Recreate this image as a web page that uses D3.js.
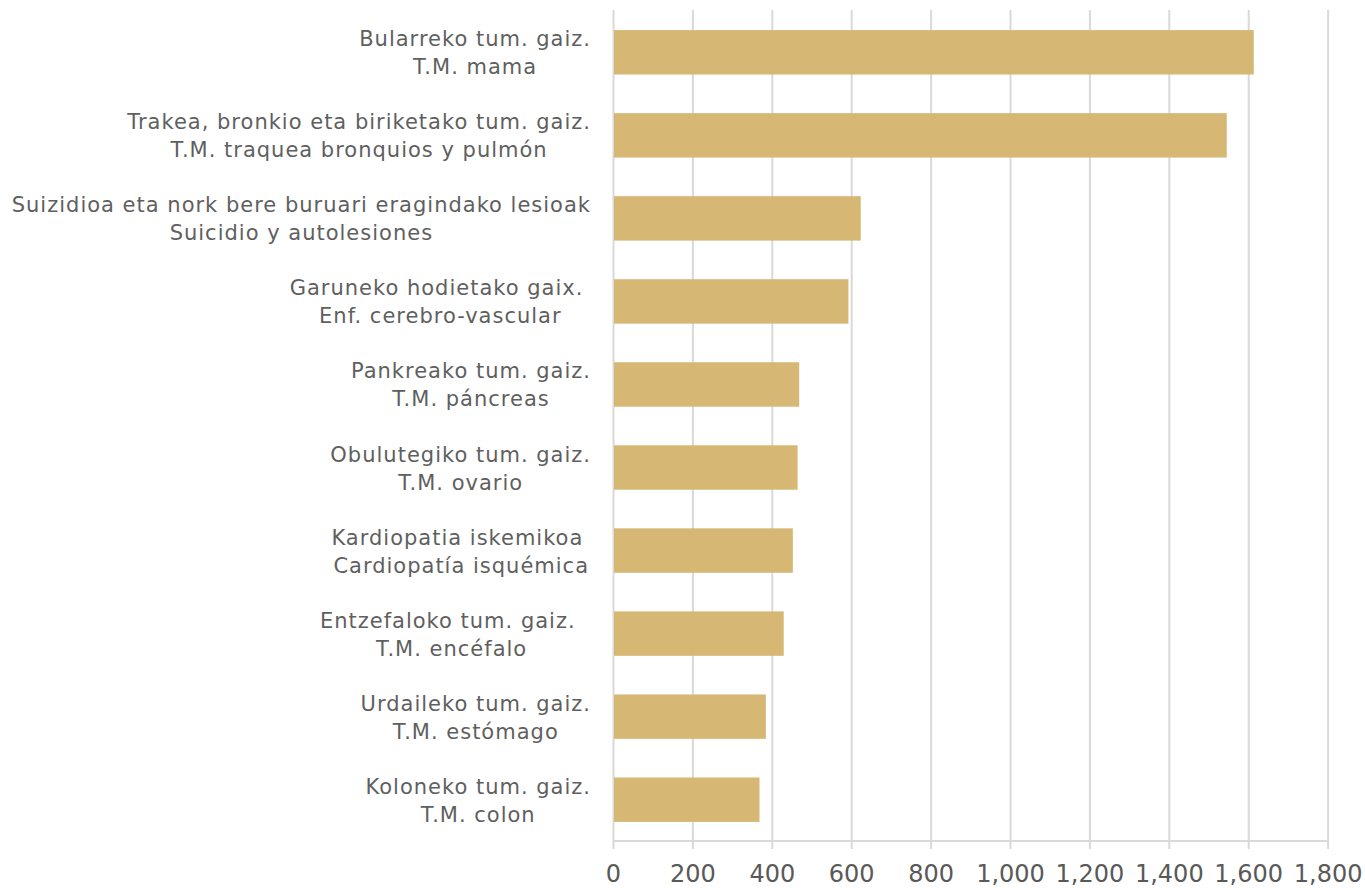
<!DOCTYPE html>
<html>
<head>
<meta charset="utf-8">
<script src="https://cdn.jsdelivr.net/npm/d3@7"></script>
<style>
  html, body { margin: 0; padding: 0; background: #fff; }
  svg { display: block; font-family: "DejaVu Sans", sans-serif; }
</style>
</head>
<body>
<svg id="chart" width="1365" height="888"></svg>
<script>
// categories, two lines each (euskara / castellano)
var labelsEu = [
  "Bularreko tum. gaiz.",
  "Trakea, bronkio eta biriketako tum. gaiz.",
  "Suizidioa eta nork bere buruari eragindako lesioak",
  "Garuneko hodietako gaix. ",
  "Pankreako tum. gaiz.",
  "Obulutegiko tum. gaiz.",
  "Kardiopatia iskemikoa ",
  "Entzefaloko tum. gaiz.  ",
  "Urdaileko tum. gaiz.",
  "Koloneko tum. gaiz."
];
var labelsEs = [
  "T.M. mama",
  "T.M. traquea bronquios y pulmón",
  "Suicidio y autolesiones",
  "Enf. cerebro-vascular",
  "T.M. páncreas",
  "T.M. ovario",
  "Cardiopatía isquémica",
  "T.M. encéfalo ",
  "T.M. estómago",
  "T.M. colon"
];
var values = [1614, 1546, 624, 593, 469, 465, 453, 430, 385, 369];
var ticks = [0, 200, 400, 600, 800, 1000, 1200, 1400, 1600, 1800];

var svg = d3.select("#chart"),
  margin = { top: 11, right: 38, bottom: 47, left: 613 },
  width = +svg.attr("width"),
  height = +svg.attr("height");

var x = d3.scaleLinear()
  .domain([0, 1800])
  .range([margin.left, 1327.6]);

var y = d3.scaleBand()
  .domain(d3.range(values.length))
  .range([margin.top, height - margin.bottom])
  .paddingInner(0.465)
  .paddingOuter(0.23);

// gridlines + axis
var axis = svg.append("g")
  .attr("transform", "translate(0," + (height - margin.bottom) + ")")
  .call(d3.axisBottom(x)
    .tickValues(ticks)
    .tickSize(8)
    .tickPadding(16)
    .tickFormat(d3.format(",")));

axis.select(".domain").attr("stroke", "#d9d9d9").attr("stroke-width", 2)
  .attr("d", "M" + x(0) + ",0H" + x(1800));
axis.selectAll(".tick line").attr("stroke", "#d9d9d9").attr("stroke-width", 2)
  .attr("y1", -(height - margin.bottom - 10));
axis.selectAll(".tick text")
  .attr("fill", "#595959")
  .attr("font-size", 24)
  .attr("font-family", "DejaVu Sans, sans-serif");

// bars
svg.append("g")
  .selectAll("rect")
  .data(values)
  .join("rect")
  .attr("x", x(0) + 1)
  .attr("y", function(d, i) { return y(i) })
  .attr("width", function(d) { return x(d) - x(0) - 1 })
  .attr("height", y.bandwidth())
  .attr("fill", "#d6b774");

// category labels: two centred lines, block right-aligned to the axis
var labelRight = 591;
var lab = svg.append("g")
  .attr("fill", "#5f5f5f")
  .attr("font-size", 21)
  .attr("letter-spacing", 1)
  .style("white-space", "pre");

values.forEach(function(d, i) {
  var cy = y(i) + y.bandwidth() / 2;
  var t = lab.append("text")
    .attr("xml:space", "preserve")
    .attr("text-anchor", "middle");
  var l1 = t.append("tspan").text(labelsEu[i]).attr("y", cy - 6);
  var l2 = t.append("tspan").text(labelsEs[i]).attr("y", cy + 22);
  var w = Math.max(l1.node().getComputedTextLength(), l2.node().getComputedTextLength());
  l1.attr("x", labelRight - w / 2);
  l2.attr("x", labelRight - w / 2);
});
</script>
</body>
</html>
